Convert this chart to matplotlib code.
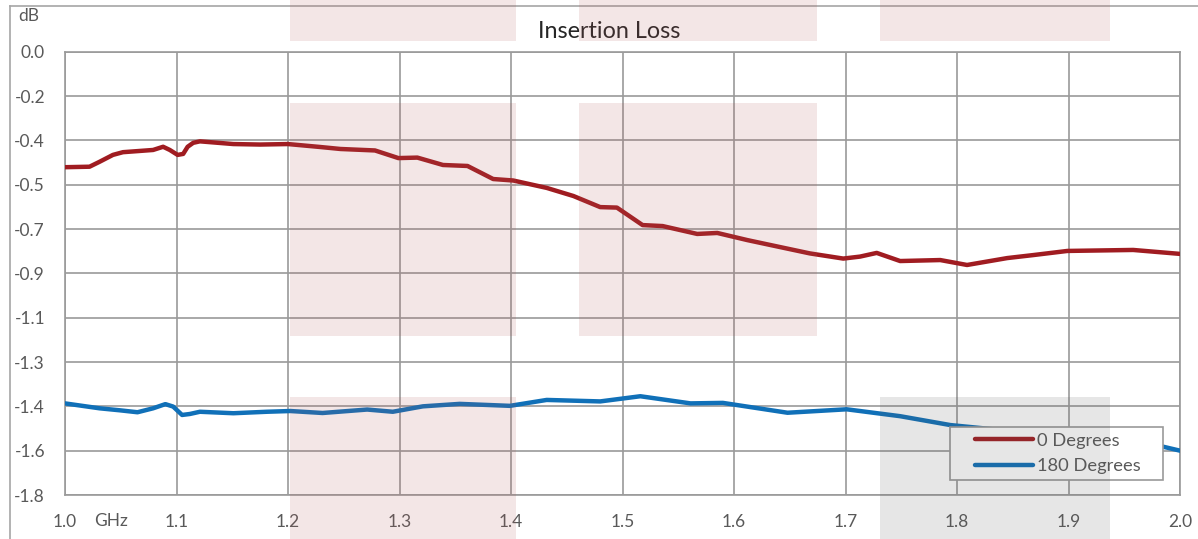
import numpy as np
import matplotlib
matplotlib.use("Agg")
import matplotlib.pyplot as plt
from matplotlib.patches import Rectangle
from matplotlib.lines import Line2D
from matplotlib.legend_handler import HandlerLine2D

plt.rcParams['font.family'] = ['Lato', 'DejaVu Sans']

# 0 Degrees (GHz, dB)
freq_0 = [1.000, 1.022, 1.031, 1.043, 1.052, 1.067, 1.079, 1.088, 1.094, 1.101, 1.106, 1.110,
          1.115, 1.121, 1.151, 1.175, 1.200, 1.229, 1.247, 1.278, 1.299, 1.316, 1.339, 1.361,
          1.384, 1.402, 1.432, 1.456, 1.480, 1.495, 1.518, 1.536, 1.567, 1.585, 1.612, 1.641,
          1.668, 1.698, 1.713, 1.728, 1.749, 1.785, 1.809, 1.845, 1.868, 1.899, 1.958, 2.000]
loss_0 = [-0.469, -0.467, -0.447, -0.419, -0.408, -0.403, -0.399, -0.386, -0.399, -0.419, -0.415, -0.386,
          -0.370, -0.364, -0.375, -0.377, -0.375, -0.387, -0.395, -0.401, -0.432, -0.430, -0.460, -0.464,
          -0.517, -0.523, -0.553, -0.586, -0.631, -0.633, -0.704, -0.708, -0.740, -0.736, -0.765, -0.793,
          -0.819, -0.840, -0.832, -0.817, -0.850, -0.846, -0.866, -0.838, -0.826, -0.809, -0.805, -0.821]

# 180 Degrees (GHz, dB)
freq_180 = [1.000, 1.031, 1.049, 1.065, 1.079, 1.090, 1.097, 1.105, 1.112, 1.121, 1.151, 1.181,
            1.202, 1.231, 1.271, 1.294, 1.321, 1.354, 1.399, 1.432, 1.480, 1.516, 1.561, 1.590,
            1.648, 1.701, 1.749, 1.794, 1.839, 1.892, 1.937, 1.985, 2.000]
loss_180 = [-1.428, -1.448, -1.456, -1.464, -1.448, -1.431, -1.441, -1.475, -1.471, -1.462, -1.468, -1.462,
            -1.459, -1.467, -1.453, -1.462, -1.440, -1.430, -1.438, -1.414, -1.420, -1.399, -1.428, -1.426,
            -1.466, -1.452, -1.480, -1.516, -1.536, -1.560, -1.577, -1.604, -1.620]

x_ticks = [1.0, 1.1, 1.2, 1.3, 1.4, 1.5, 1.6, 1.7, 1.8, 1.9, 2.0]
y_ticks = np.linspace(0, -1.8, 11)

W, H = 1198, 539
fig = plt.figure(figsize=(W / 100, H / 100), dpi=100)
ax = fig.add_axes([65 / W, 1 - 495 / H, (1180 - 65) / W, (495 - 51.7) / H])
ax.set_facecolor('none')

grid_col = '#9a9a9a'
txt_col = '#595959'
fs = 12.5

ax.plot(freq_0, loss_0, color='#a01c21', lw=3.2, solid_capstyle='round', solid_joinstyle='round',
        label='0 Degrees', zorder=3)
ax.plot(freq_180, loss_180, color='#1070b8', lw=3.2, solid_capstyle='round', solid_joinstyle='round',
        label='180 Degrees', zorder=3)

ax.set_xlim(1.0, 2.0)
ax.set_ylim(-1.8, 0)
ax.set_xticks(x_ticks)
ax.set_xticklabels([f'{v:.1f}' for v in x_ticks])
ax.set_yticks(y_ticks)
ax.set_yticklabels([f'{v:.1f}' for v in y_ticks])
ax.tick_params(length=0, labelsize=fs, colors=txt_col)
ax.tick_params(axis='y', pad=14.4)
ax.tick_params(axis='x', pad=14)
ax.grid(True, color=grid_col, lw=1.2)
ax.set_axisbelow(True)
for s in ax.spines.values():
    s.set_color(grid_col)
    s.set_linewidth(1.2)

fig.text(29 / W, 1 - 16 / H, 'dB', ha='center', va='center', fontsize=fs, color=txt_col)
fig.text(111 / W, 1 - 521 / H, 'GHz', ha='center', va='center', fontsize=fs, color=txt_col)
fig.text(609 / W, 1 - 31 / H, 'Insertion Loss', ha='center', va='center', fontsize=16.8, color='#262626')


class PadHandler(HandlerLine2D):
    # leaves blank space on the left of each legend line
    def create_artists(self, legend, orig_handle, xdescent, ydescent, width, height, fontsize, trans):
        pad = width * 0.25
        return super().create_artists(legend, orig_handle, xdescent - pad, ydescent,
                                      width - pad, height, fontsize, trans)


lfs = 13.2
leg = ax.legend(loc='upper left', bbox_to_anchor=(950 / W, 1 - 481 / H, 213 / W, 54 / H),
                bbox_transform=fig.transFigure, mode='expand',
                fontsize=lfs, frameon=True, fancybox=False, handlelength=4.2, handletextpad=0.2,
                borderpad=0.32, labelspacing=0.5, borderaxespad=0,
                handler_map={Line2D: PadHandler()})
leg.get_frame().set_edgecolor(grid_col)
leg.get_frame().set_linewidth(1.2)
leg.get_frame().set_alpha(1)
for t in leg.get_texts():
    t.set_color(txt_col)

# outer frame (left and top edges)
fig.add_artist(Line2D([10 / W, 10 / W], [0, 1 - 6 / H], color='#a6a6a6', lw=1.2, transform=fig.transFigure))
fig.add_artist(Line2D([10 / W, 1], [1 - 6 / H, 1 - 6 / H], color='#a6a6a6', lw=1.2, transform=fig.transFigure))

# background overlay blocks (pixel boxes: x0, y0, x1, y1)
pink_boxes = [(290, 0, 516, 41), (579, 0, 817, 41), (880, 0, 1110, 41),
              (290, 103, 516, 336), (579, 103, 817, 336), (290, 397, 516, 539)]
gray_boxes = [(880, 397, 1110, 539)]
for x0, y0, x1, y1 in pink_boxes:
    fig.add_artist(Rectangle((x0 / W, 1 - y1 / H), (x1 - x0) / W, (y1 - y0) / H,
                             transform=fig.transFigure, facecolor=(0.69, 0.35, 0.35), alpha=0.15,
                             edgecolor='none', zorder=10))
for x0, y0, x1, y1 in gray_boxes:
    fig.add_artist(Rectangle((x0 / W, 1 - y1 / H), (x1 - x0) / W, (y1 - y0) / H,
                             transform=fig.transFigure, facecolor=(0.35, 0.35, 0.35), alpha=0.15,
                             edgecolor='none', zorder=10))

fig.savefig('out.png', dpi=100)
